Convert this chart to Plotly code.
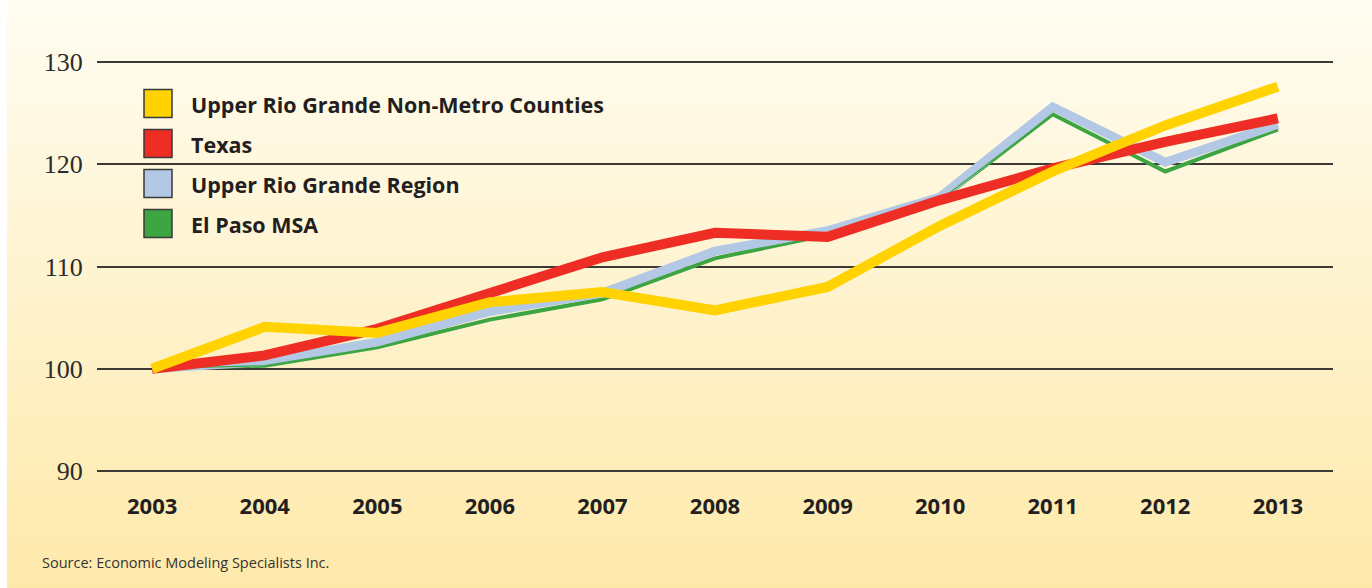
import plotly.graph_objects as go

# ---------------- data ----------------
years = [2003, 2004, 2005, 2006, 2007, 2008, 2009, 2010, 2011, 2012, 2013]
nonmetro = [100, 104.1, 103.5, 106.5, 107.5, 105.7, 108.0, 114.0, 119.3, 123.8, 127.6]
texas = [100, 101.3, 103.9, 107.5, 110.9, 113.3, 112.9, 116.5, 119.6, 122.2, 124.5]
region = [100, 100.7, 102.6, 105.6, 107.4, 111.5, 113.5, 116.8, 125.6, 120.2, 123.9]
elpaso = [100, 100.3, 102.1, 104.8, 106.8, 110.8, 113.1, 116.5, 124.9, 119.3, 123.4]
series_names = ["Upper Rio Grande Non-Metro Counties", "Texas",
                "Upper Rio Grande Region", "El Paso MSA"]
y_ticks = [90, 100, 110, 120, 130]
source_text = "Source: Economic Modeling Specialists Inc."

# ---------------- layout geometry ----------------
W, H = 1372, 588
L, R, T, B = 97, 1333, 57, 476
PW, PH = R - L, B - T


def px(xp):
    return (xp - L) / PW


def py(yp):
    return (B - yp) / PH


c_yellow = "#FFD200"
c_red = "#EE2E24"
c_blue = "#B3C8E4"
c_green = "#3DA542"
colors = [c_yellow, c_red, c_blue, c_green]

fig = go.Figure()
# drawing order: green, blue, thin green, red, yellow
fig.add_trace(go.Scatter(x=years, y=elpaso, mode="lines", name=series_names[3],
                         line=dict(color=c_green, width=4), showlegend=False))
fig.add_trace(go.Scatter(x=years, y=region, mode="lines", name=series_names[2],
                         line=dict(color=c_blue, width=9), showlegend=False))
fig.add_trace(go.Scatter(x=years, y=elpaso, mode="lines", name=series_names[3],
                         line=dict(color=c_green, width=1.2), showlegend=False,
                         hoverinfo="skip"))
fig.add_trace(go.Scatter(x=years, y=texas, mode="lines", name=series_names[1],
                         line=dict(color=c_red, width=10), showlegend=False))
fig.add_trace(go.Scatter(x=years, y=nonmetro, mode="lines", name=series_names[0],
                         line=dict(color=c_yellow, width=10), showlegend=False))

shapes = []
# gradient background
top = (255, 253, 242)
bot = (254, 233, 170)
n = 60
for i in range(n):
    y0p = H * i / n
    y1p = H * (i + 1) / n + 1
    t = (i + 0.5) / n
    col = tuple(round(top[k] + (bot[k] - top[k]) * t) for k in range(3))
    shapes.append(dict(type="rect", xref="paper", yref="paper",
                       x0=px(7), x1=px(W + 2), y0=py(y1p), y1=py(y0p),
                       fillcolor="rgb(%d,%d,%d)" % col, line=dict(width=0),
                       layer="below"))

annotations = []
# custom legend
for i, (nm, col) in enumerate(zip(series_names, colors)):
    cy = 103.5 + 40 * i
    shapes.append(dict(type="rect", xref="paper", yref="paper",
                       x0=px(144), x1=px(172), y0=py(cy + 14), y1=py(cy - 14),
                       fillcolor=col, line=dict(color="#3a3a3a", width=1.5),
                       layer="above"))
    annotations.append(dict(text=nm, xref="paper", yref="paper",
                            x=px(189), y=py(cy + 1), xanchor="left", yanchor="middle",
                            showarrow=False,
                            font=dict(family="Open Sans", size=21.5, color="#231f20",
                                      weight="bold")))

annotations.append(dict(text=source_text, xref="paper", yref="paper",
                        x=px(40), y=py(562), xanchor="left", yanchor="middle",
                        showarrow=False,
                        font=dict(family="Open Sans", size=14.5, color="#333333")))

fig.update_layout(
    width=W, height=H, autosize=False,
    margin=dict(l=L, r=W - R, t=T, b=H - B, pad=0),
    paper_bgcolor="white", plot_bgcolor="rgba(0,0,0,0)",
    shapes=shapes, annotations=annotations, showlegend=False,
    xaxis=dict(range=[2002.51, 2013.49], tickvals=years,
               ticktext=[str(y) for y in years],
               showgrid=False, zeroline=False, showline=False,
               ticks="outside", ticklen=0, ticklabelstandoff=11,
               tickfont=dict(family="Open Sans", size=22, color="#231f20",
                             weight="bold")),
    yaxis=dict(range=[89.5, 130.5], tickvals=y_ticks,
               showgrid=True, gridcolor="#3d3a36", gridwidth=1.5,
               zeroline=False, showline=False,
               ticks="outside", ticklen=0, ticklabelstandoff=8,
               tickfont=dict(family="Liberation Serif", size=26, color="#2b2b2b")),
)

fig.write_html("out.html", config={"displayModeBar": False},
               post_script="document.body.style.margin='0';document.body.style.padding='0';")
